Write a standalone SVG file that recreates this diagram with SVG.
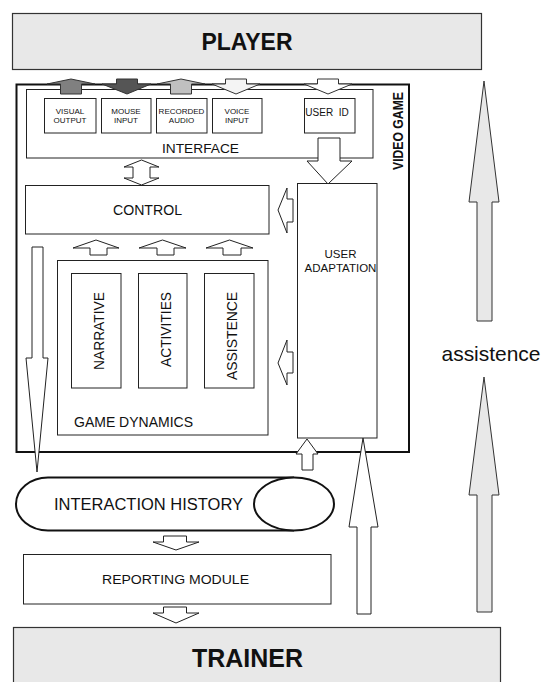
<svg xmlns="http://www.w3.org/2000/svg" width="542" height="682" viewBox="0 0 542 682">
<style>
text{font-family:"Liberation Sans",Arial,sans-serif;fill:#111}
.box{fill:#fff;stroke:#222;stroke-width:1}
.big{fill:#e8e8e8;stroke:#333;stroke-width:1.2}
.arr{fill:#fff;stroke:#222;stroke-width:1;stroke-linejoin:miter}
.garr{fill:#e8e8e8;stroke:#333;stroke-width:1}
.b{font-weight:bold}
.s8{font-size:8px}
</style>
<rect width="542" height="682" fill="#fff"/>

<g id="player">
<rect class="big" x="12.5" y="13.5" width="469" height="56"/>
<text class="b" x="247" y="50" font-size="23" text-anchor="middle" textLength="91" lengthAdjust="spacingAndGlyphs">PLAYER</text>
</g>

<g id="trainer">
<rect class="big" x="13.5" y="627.5" width="487" height="60"/>
<text class="b" x="247.5" y="667" font-size="25" text-anchor="middle" textLength="111" lengthAdjust="spacingAndGlyphs">TRAINER</text>
</g>

<g id="video-game">
<rect x="16.5" y="84.5" width="392.5" height="367.5" fill="#fff" stroke="#111" stroke-width="2"/>
<text class="b" transform="translate(403,131) rotate(-90)" font-size="14" text-anchor="middle" textLength="78" lengthAdjust="spacingAndGlyphs">VIDEO GAME</text>
</g>

<g id="interface">
<rect class="box" x="26.5" y="89.5" width="346.5" height="68.5"/>
<text x="200.5" y="153" font-size="13" text-anchor="middle" textLength="77" lengthAdjust="spacingAndGlyphs">INTERFACE</text>
</g>

<g id="visual-output">
<rect class="box" x="44.5" y="98.5" width="51.5" height="34.5"/>
<text class="s8" x="70" y="113.5" text-anchor="middle">VISUAL</text>
<text class="s8" x="70" y="123" text-anchor="middle">OUTPUT</text>
</g>
<g id="mouse-input">
<rect class="box" x="101.5" y="98.5" width="49.5" height="34.5"/>
<text class="s8" x="126" y="113.5" text-anchor="middle">MOUSE</text>
<text class="s8" x="126" y="123" text-anchor="middle">INPUT</text>
</g>
<g id="recorded-audio">
<rect class="box" x="156.5" y="98.5" width="50.5" height="34.5"/>
<text class="s8" x="181.5" y="113.5" text-anchor="middle">RECORDED</text>
<text class="s8" x="181.5" y="123" text-anchor="middle">AUDIO</text>
</g>
<g id="voice-input">
<rect class="box" x="212.5" y="98.5" width="49.5" height="34.5"/>
<text class="s8" x="237" y="113.5" text-anchor="middle">VOICE</text>
<text class="s8" x="237" y="123" text-anchor="middle">INPUT</text>
</g>
<g id="user-id">
<rect class="box" x="304.5" y="98.5" width="50.5" height="34.5"/>
<text x="327" y="116" font-size="10" text-anchor="middle" xml:space="preserve">USER  ID</text>
</g>

<g id="control">
<rect class="box" x="25.5" y="185.5" width="243.5" height="48.5"/>
<text x="147.5" y="214.5" font-size="14" text-anchor="middle" textLength="69" lengthAdjust="spacingAndGlyphs">CONTROL</text>
</g>

<g id="user-adaptation">
<rect class="box" x="297.5" y="183.5" width="79.5" height="254.5"/>
<text x="340.5" y="258" font-size="11.5" text-anchor="middle">USER</text>
<text x="340.5" y="272" font-size="11.5" text-anchor="middle">ADAPTATION</text>
</g>

<g id="game-dynamics">
<rect class="box" x="57.5" y="260.5" width="210.5" height="174.5"/>
<text x="74" y="427" font-size="14" textLength="119" lengthAdjust="spacingAndGlyphs">GAME DYNAMICS</text>
</g>
<g id="narrative">
<rect class="box" x="71.5" y="273.5" width="49.5" height="114.5"/>
<text transform="translate(104,292) rotate(-90)" font-size="14" text-anchor="end" textLength="78" lengthAdjust="spacingAndGlyphs">NARRATIVE</text>
</g>
<g id="activities">
<rect class="box" x="138.5" y="273.5" width="48.5" height="114.5"/>
<text transform="translate(170.5,292) rotate(-90)" font-size="14" text-anchor="end" textLength="75" lengthAdjust="spacingAndGlyphs">ACTIVITIES</text>
</g>
<g id="assistence">
<rect class="box" x="204.5" y="273.5" width="49.5" height="114.5"/>
<text transform="translate(237,292) rotate(-90)" font-size="14" text-anchor="end" textLength="88" lengthAdjust="spacingAndGlyphs">ASSISTENCE</text>
</g>

<g id="interaction-history">
<path d="M294,477.5 L48,477.5 A32,26.5 0 0 0 48,530.5 L294,530.5" fill="#fff" stroke="#111" stroke-width="2"/>
<ellipse cx="294" cy="504" rx="40" ry="26.5" fill="#fff" stroke="#111" stroke-width="2"/>
<text x="54" y="510" font-size="16" textLength="189" lengthAdjust="spacingAndGlyphs">INTERACTION HISTORY</text>
</g>

<g id="reporting-module">
<rect class="box" x="23.5" y="554.5" width="307.5" height="49.5"/>
<text x="175.5" y="584" font-size="13.7" text-anchor="middle" textLength="147" lengthAdjust="spacingAndGlyphs">REPORTING MODULE</text>
</g>

<g id="assistence-label">
<text x="491" y="361" font-size="21" text-anchor="middle" textLength="99" lengthAdjust="spacingAndGlyphs">assistence</text>
</g>

<g id="connectors">
<!-- top I/O arrows -->
<polygon fill="#808080" stroke="#333" stroke-width="1" points="71,79 95,84 81.5,84 81.5,94 60.5,94 60.5,84 47,84"/>
<polygon fill="#555" stroke="#333" stroke-width="1" points="116.5,79 137.5,79 137.5,84 151,84 127,94 102,84 116.5,84"/>
<polygon fill="#c0c0c0" stroke="#333" stroke-width="1" points="181,79 205,84 191.5,84 191.5,94 170.5,94 170.5,84 157,84"/>
<polygon fill="#f4f4f4" stroke="#333" stroke-width="1" points="225.5,79 246.5,79 246.5,84 260,84 236,94 212,84 225.5,84"/>
<polygon fill="#fff" stroke="#333" stroke-width="1" points="317.5,79 338.5,79 338.5,84 352,84 328,94 304,84 317.5,84"/>
<!-- user id to user adaptation -->
<polygon class="arr" points="318,138 340,138 340,161 352,161 328,184 307,161 318,161"/>
<!-- interface <-> control -->
<polygon class="arr" points="141.5,160 159,167 150,167 150,178 159,178 141.5,185 124,178 133,178 133,167 124,167"/>
<!-- game dynamics to control -->
<polygon class="arr" points="96,240 119,248 107,248 107,255 90,255 90,248 73,248"/>
<polygon class="arr" points="162.5,240 186,248 174,248 174,255 157,255 157,248 139,248"/>
<polygon class="arr" points="229.5,240 253,248 241,248 241,255 223,255 223,248 206,248"/>
<!-- user adaptation to control / game dynamics -->
<polygon class="arr" points="278,210 287,188 287,199 293,199 293,222 287,222 287,233"/>
<polygon class="arr" points="278,363 287,340 287,352 293,352 293,373 287,373 287,385"/>
<!-- control to interaction history -->
<polygon class="arr" points="32,247 43,247 43,358 48,358 37,472 26,358 32,358"/>
<!-- up into user adaptation -->
<polygon class="arr" points="307,439 318,454 313,454 313,470 302,470 302,454 296,454"/>
<polygon class="arr" points="363,438 378,527 371,527 371,614 357,614 357,527 349,527"/>
<!-- history to reporting to trainer -->
<polygon class="arr" points="163.5,536 186.5,536 186.5,542 199,542 176,550 153,542 163.5,542"/>
<polygon class="arr" points="163.5,607 186.5,607 186.5,613 199,613 176,623 153,613 163.5,613"/>
<!-- assistence arrows -->
<polygon class="garr" points="484,81 499,202 492,202 492,321 477,321 477,202 469,202"/>
<polygon class="garr" points="484,377 499,495 492,495 492,612 477,612 477,495 469,495"/>
</g>
</svg>
